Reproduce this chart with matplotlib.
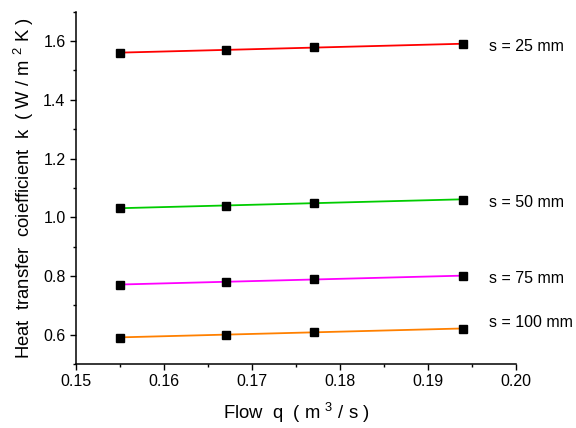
import numpy as np
import matplotlib
matplotlib.use("Agg")
import matplotlib.pyplot as plt
from matplotlib.ticker import MultipleLocator

plt.rcParams["font.family"] = ["Liberation Sans", "DejaVu Sans"]
plt.rcParams["mathtext.fontset"] = "custom"
plt.rcParams["mathtext.rm"] = "Liberation Sans"
plt.rcParams["mathtext.it"] = "Liberation Sans"

# Flow rates and measured heat transfer coefficients per spacing
flow = [0.155, 0.167, 0.177, 0.194]
k_25 = [1.56, 1.57, 1.58, 1.59]
k_50 = [1.03, 1.04, 1.05, 1.06]
k_75 = [0.77, 0.78, 0.79, 0.80]
k_100 = [0.59, 0.60, 0.61, 0.62]
labels = ["s = 25 mm", "s = 50 mm", "s = 75 mm", "s = 100 mm"]
label_y = [1.58, 1.05, 0.79, 0.64]
colors = ["#ff0000", "#00cc00", "#ff00ff", "#ff8000"]

fig = plt.figure(figsize=(5.76, 4.28), dpi=100)
ax = fig.add_axes([0.132, 0.1495, 0.764, 0.823])

x = np.array(flow)
for k, lab, ly, c in zip([k_25, k_50, k_75, k_100], labels, label_y, colors):
    # linear fit through the points
    slope, icpt = np.polyfit(x, k, 1)
    ax.plot(x[[0, -1]], slope * x[[0, -1]] + icpt, color=c, lw=1.3, zorder=2)
    ax.plot(x, k, ls="none", marker="s", ms=5.5, color="black", zorder=3)
    ax.text(0.1969, ly, lab, fontsize=11.5, va="center", ha="left",
            clip_on=False)

ax.set_xlim(0.15, 0.20)
ax.set_ylim(0.5, 1.7)
ax.xaxis.set_major_locator(MultipleLocator(0.01))
ax.xaxis.set_minor_locator(MultipleLocator(0.005))
ax.yaxis.set_major_locator(MultipleLocator(0.2))
ax.yaxis.set_minor_locator(MultipleLocator(0.1))
ax.set_xticklabels([f"{v:.2f}" for v in ax.get_xticks()])
ax.set_yticklabels([f"{v:.1f}" for v in ax.get_yticks()])
ax.tick_params(which="both", direction="out", labelsize=11.5, width=1)
ax.tick_params(which="major", length=4.5, pad=3)
ax.tick_params(which="minor", length=2.4)

for side in ["left", "bottom"]:
    ax.spines[side].set_linewidth(1.1)
ax.spines["top"].set_visible(False)
ax.spines["right"].set_visible(False)

ax.set_xlabel(r"Flow  q  ( m $^{3}$ / s )", fontsize=13.3, labelpad=8)
ax.set_ylabel(r"Heat  transfer  coiefficient  k  ( W / m $^{2}$ K )",
              fontsize=13.3, labelpad=5)

fig.savefig("out.png", dpi=100)
